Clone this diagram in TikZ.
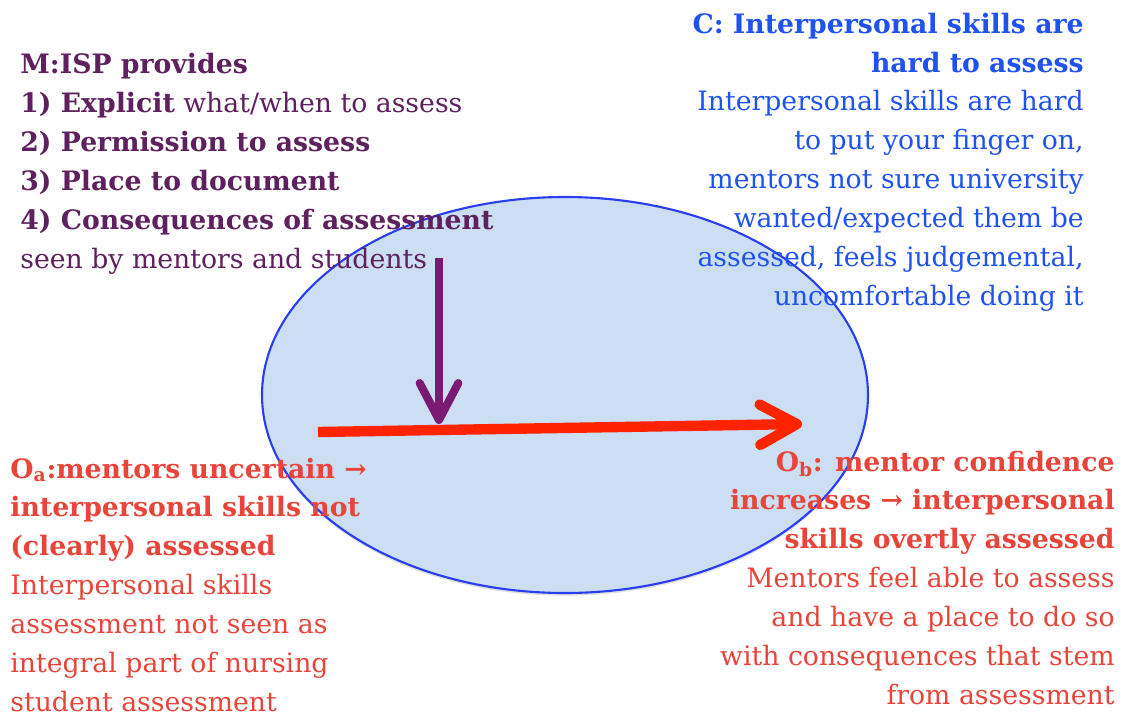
\documentclass[tikz,border=0pt]{standalone}
\usepackage{fontspec}
\setmainfont{DejaVu Serif}
\usetikzlibrary{arrows.meta,shadows}

\definecolor{mechpurple}{RGB}{94,32,94}
\definecolor{ctxblue}{RGB}{32,82,240}
\definecolor{outred}{RGB}{232,68,58}
\definecolor{arrowred}{RGB}{255,36,0}
\definecolor{arrowpurple}{RGB}{122,26,114}
\definecolor{bubblefill}{RGB}{204,222,242}
\definecolor{bubbleline}{RGB}{40,62,240}

\begin{document}
\begin{tikzpicture}[x=0.02cm, y=-0.02cm,
    txt/.style={inner sep=0pt, font=\fontsize{15.2pt}{22.1pt}\selectfont},
    bubble/.style={fill=bubblefill, draw=bubbleline, line width=1.2pt,
        drop shadow={opacity=0.25, shadow xshift=0pt, shadow yshift=-1.5pt}},
    outcome/.style={draw=arrowred, line width=5.9pt,
        -{Straight Barb[length=21pt, width=23pt, round]}},
    mechanism/.style={draw=arrowpurple, line width=4.6pt,
        -{Straight Barb[length=21pt, width=22pt, round]}}
]
\useasboundingbox (0,0) rectangle (1129,714);

% context bubble
\path[bubble] (565,395) ellipse [x radius=303, y radius=198];

% mechanism (base = last line)
\node[txt, text=mechpurple, align=left, anchor=base west] (mech) at (20,268)
    {\textbf{M:ISP provides}\\
     \textbf{1) Explicit} what/when to assess\\
     \textbf{2) Permission to assess}\\
     \textbf{3) Place to document}\\
     \textbf{4) Consequences of assessment}\\
     seen by mentors and students};

% context
\node[txt, text=ctxblue, align=right, anchor=base east] (ctx) at (1084,305)
    {\textbf{C: Interpersonal skills are}\\
     \textbf{hard to assess}\\
     Interpersonal skills are hard\\
     to put your finger on,\\
     mentors not sure university\\
     wanted/expected them be\\
     assessed, feels judgemental,\\
     uncomfortable doing it};

% outcomes
\node[txt, text=outred, align=left, anchor=base west] (oa) at (10,711)
    {\textbf{O\textsubscript{a}:mentors uncertain →}\\
     \textbf{interpersonal skills not}\\
     \textbf{(clearly) assessed}\\
     Interpersonal skills\\
     assessment not seen as\\
     integral part of nursing\\
     student assessment};

\node[txt, text=outred, align=right, anchor=base east] (ob) at (1115,704)
    {\textbf{O\textsubscript{b}: mentor confidence}\\
     \textbf{increases → interpersonal}\\
     \textbf{skills overtly assessed}\\
     Mentors feel able to assess\\
     and have a place to do so\\
     with consequences that stem\\
     from assessment};

% arrows
\coordinate (before) at (318,432);
\coordinate (after) at (802,424);
\coordinate (ispstart) at (439,258);
\coordinate (ispend) at (439,424);

\draw[mechanism] (ispstart) -- (ispend);
\draw[outcome] (before) -- (after);

\end{tikzpicture}
\end{document}
